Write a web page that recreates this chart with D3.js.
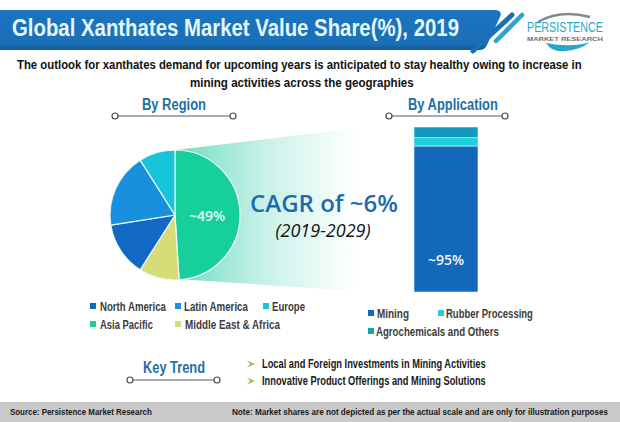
<!DOCTYPE html>
<html>
<head>
<meta charset="utf-8">
<script src="https://cdn.jsdelivr.net/npm/d3@7"></script>
<style>
  html, body { margin: 0; padding: 0; background: #fff; }
  svg { display: block; }
</style>
</head>
<body>
<div id="chart"></div>
<script>
const regions = ["Asia Pacific", "Middle East & Africa", "North America", "Latin America", "Europe"];
const regionShares = [49, 10, 13.5, 18.5, 9];
const regionColors = ["#16cf9c", "#d8dc78", "#1368c4", "#1890dd", "#16c6d8"];

const applications = ["Mining", "Rubber Processing", "Agrochemicals and Others"];
// drawn heights, the picture says shares are not to scale (mining is labelled ~95%)
const applicationShares = [88.5, 5, 6.5];
const applicationColors = ["#1468bb", "#1bd2da", "#1498bd"];

const trends = ["Local and Foreign Investments in Mining Activities", "Innovative Product Offerings and Mining Solutions"];

const width = 620, height = 422;
const bodyFont = "'Liberation Sans Narrow', 'Liberation Sans', sans-serif";
const calloutFont = "'Open Sans', 'Noto Sans', sans-serif";

const svg = d3.select("#chart").append("svg")
  .attr("width", width)
  .attr("height", height)
  .attr("viewBox", [0, 0, width, height]);

// text scaled sideways to the width it has in the picture
function label(str, x, y, w, size, color, weight, anchor) {
  let t = svg.append("text")
    .attr("font-family", bodyFont)
    .attr("font-size", size)
    .attr("font-weight", weight || 700)
    .attr("fill", color || "#1a1a1a")
    .attr("text-anchor", anchor || "start")
    .text(str);
  let sx = w / t.node().getComputedTextLength();
  t.attr("transform", `translate(${x},${y}) scale(${sx},1)`);
  return t;
}

function rule(x0, x1, y) {
  svg.append("line")
    .attr("x1", x0).attr("x2", x1).attr("y1", y).attr("y2", y)
    .attr("stroke", "#5a5a5a").attr("stroke-width", 1.2);
  svg.selectAll(null)
    .data([x0, x1])
    .enter().append("circle")
    .attr("cx", d => d).attr("cy", y).attr("r", 3)
    .attr("fill", "#fff").attr("stroke", "#4a4a4a").attr("stroke-width", 1.2);
}

const defs = svg.append("defs");

const funnelGrad = defs.append("linearGradient").attr("id", "funnel");
funnelGrad.append("stop").attr("offset", "0%").attr("stop-color", "#6fdcc3");
funnelGrad.append("stop").attr("offset", "45%").attr("stop-color", "#c8f1e8");
funnelGrad.append("stop").attr("offset", "92%").attr("stop-color", "#fff");

const bannerGrad = defs.append("linearGradient")
  .attr("id", "banner").attr("x1", 0).attr("x2", 0).attr("y1", 0).attr("y2", 1);
bannerGrad.append("stop").attr("offset", "0%").attr("stop-color", "#1b74c0");
bannerGrad.append("stop").attr("offset", "85%").attr("stop-color", "#1a70b8");
bannerGrad.append("stop").attr("offset", "100%").attr("stop-color", "#14568f");

// header
svg.append("path")
  .attr("d", "M0,10 L494,10 Q503,10 500,17 L487,45 Q485,50 479,50 L0,50 Z")
  .attr("fill", "url(#banner)");
label("Global Xanthates Market Value Share(%), 2019", 12, 36, 447, 23, "#e4f7fa");

svg.append("line")
  .attr("x1", 512).attr("y1", 15).attr("x2", 473).attr("y2", 51)
  .attr("stroke", "#1a6fb8").attr("stroke-width", 5).attr("stroke-linecap", "round");
svg.append("line")
  .attr("x1", 522).attr("y1", 15).attr("x2", 496).attr("y2", 41)
  .attr("stroke", "#2aa6c8").attr("stroke-width", 4.5).attr("stroke-linecap", "round");

// logo
svg.append("path")
  .attr("d", "M538,22 Q560,9 590,17")
  .attr("fill", "none").attr("stroke", "#7f8a8f").attr("stroke-width", 2.5);
svg.append("path")
  .attr("d", "M546,43 Q552,53 566,51 Q580,50 590,42 Q572,48 546,43 Z")
  .attr("fill", "#2aa6c8");
label("PERSISTENCE", 527, 32, 76, 14, "#2aa9c4", 400);
label("MARKET RESEARCH", 527, 40.5, 76, 5.5, "#6d6d6d");

// subtitle
label("The outlook for xanthates demand for upcoming years is anticipated to stay healthy owing to increase in", 17, 69, 565, 13.5, "#111");
label("mining activities across the geographies", 190, 87, 224, 13.5, "#111");

// section headings
label("By Region", 142, 110, 64, 17, "#1f6fa6");
rule(115, 233, 116);
label("By Application", 408, 110, 90, 17, "#1f6fa6");
rule(389, 505, 116);

// funnel behind the pie
svg.append("path")
  .attr("d", "M176,150 L372,126 L372,292 L176,279 Z")
  .attr("fill", "url(#funnel)");

// pie
const pieCx = 175, pieCy = 215, pieR = 65;
const pie = d3.pie().sort(null)(regionShares);
const arc = d3.arc().innerRadius(0).outerRadius(pieR);

svg.append("g")
  .attr("transform", `translate(${pieCx},${pieCy})`)
  .selectAll("path")
  .data(pie)
  .enter().append("path")
  .attr("d", arc)
  .attr("fill", (d, i) => regionColors[i])
  .attr("stroke", "#e8fbf8")
  .attr("stroke-width", 1.2);

svg.append("text")
  .attr("x", 207).attr("y", 221)
  .attr("text-anchor", "middle")
  .attr("font-family", calloutFont)
  .attr("font-size", 14).attr("font-weight", 600)
  .attr("fill", "#e8fbf6")
  .text("~49%");

// callout
svg.append("text")
  .attr("x", 324).attr("y", 212)
  .attr("text-anchor", "middle")
  .attr("font-family", calloutFont)
  .attr("font-size", 24).attr("font-weight", 600)
  .attr("fill", "#1f69ad")
  .text("CAGR of ~6%");
svg.append("text")
  .attr("x", 323).attr("y", 237)
  .attr("text-anchor", "middle")
  .attr("font-family", calloutFont)
  .attr("font-size", 18).attr("font-style", "italic")
  .attr("fill", "#111")
  .text("(2019-2029)");

// stacked bar
const barY = d3.scaleLinear().domain([0, d3.sum(applicationShares)]).range([292, 127]);
const barRows = d3.cumsum(applicationShares);

svg.append("g")
  .selectAll("rect")
  .data(applicationShares)
  .enter().append("rect")
  .attr("x", 414)
  .attr("width", 64)
  .attr("y", (d, i) => barY(barRows[i]))
  .attr("height", d => barY(0) - barY(d))
  .attr("fill", (d, i) => applicationColors[i])
  .attr("stroke", "#e6fbfb")
  .attr("stroke-width", 0.6);

svg.append("text")
  .attr("x", 446).attr("y", 265)
  .attr("text-anchor", "middle")
  .attr("font-family", calloutFont)
  .attr("font-size", 14).attr("font-weight", 600)
  .attr("fill", "#eef8fc")
  .text("~95%");

// legends
function legendItem(name, color, sx, sy, tx, w) {
  svg.append("rect")
    .attr("x", sx - 3).attr("y", sy - 3)
    .attr("width", 6).attr("height", 6)
    .attr("fill", color);
  label(name, tx, sy + 4.5, w, 12.5, "#3c3c3c");
}
legendItem(regions[2], regionColors[2], 93, 306, 100, 66);
legendItem(regions[3], regionColors[3], 178, 306, 184, 64);
legendItem(regions[4], regionColors[4], 266, 306, 272, 33);
legendItem(regions[0], regionColors[0], 93, 324, 100, 53);
legendItem(regions[1], regionColors[1], 178, 324, 185, 95);

legendItem(applications[0], applicationColors[0], 371, 313, 377, 32);
legendItem(applications[1], applicationColors[1], 441, 313, 446, 87);
legendItem(applications[2], "#14a5a8", 371, 331, 376, 123);

// key trend
label("Key Trend", 143, 373, 62, 17, "#1f6fa6");
rule(130, 217, 380);

const trendY = d3.scalePoint().domain(trends).range([364, 381]);
svg.append("g")
  .selectAll("path")
  .data(trends)
  .enter().append("path")
  .attr("d", d => `M247,${trendY(d) - 3.5} L255,${trendY(d)} L247,${trendY(d) + 3.5} L250,${trendY(d)} Z`)
  .attr("fill", "#b4b84a");
trends.forEach(d => label(d, 262, trendY(d) + 4, 224, 12, "#1a1a1a"));

// footer
svg.append("rect")
  .attr("x", 0).attr("y", 402).attr("width", width).attr("height", 20)
  .attr("fill", "#c9c9c9");
label("Source: Persistence Market Research", 10, 414.5, 142, 9, "#1a1a1a");
label("Note: Market shares are not depicted as per the actual scale and are only for illustration purposes", 232, 414.5, 377, 9, "#1a1a1a");
</script>
</body>
</html>
